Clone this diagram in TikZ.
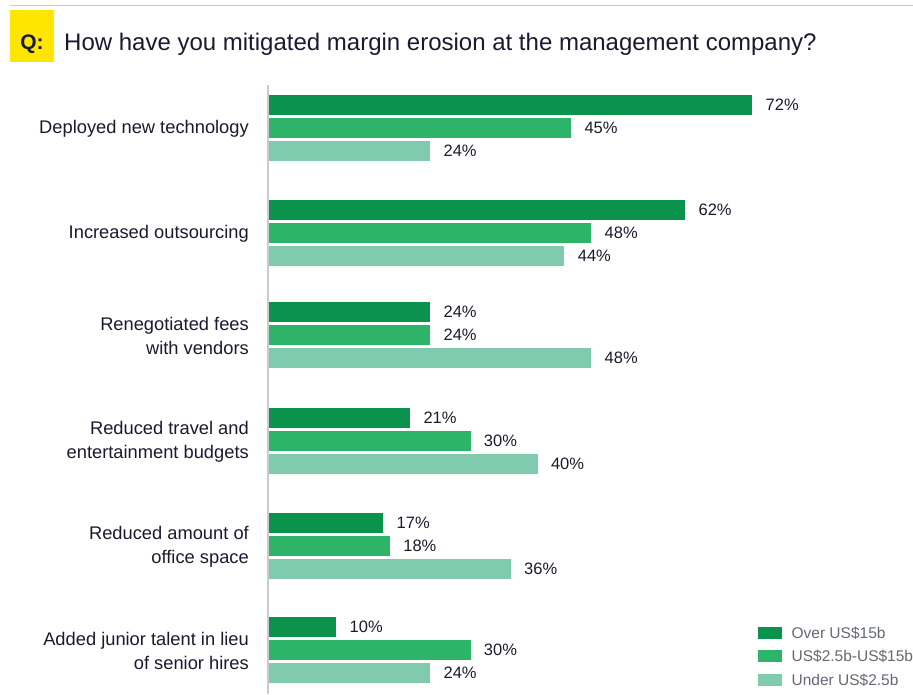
\documentclass[tikz,border=0pt]{standalone}
\usepackage{fontspec}
\setmainfont{Liberation Sans}
\usetikzlibrary{positioning}
\definecolor{qyellow}{RGB}{255,230,0}
\definecolor{overgreen}{RGB}{11,147,77}
\definecolor{midgreen}{RGB}{45,180,105}
\definecolor{undergreen}{RGB}{128,203,174}
\definecolor{inkblue}{RGB}{26,26,46}
\definecolor{keygrey}{RGB}{100,104,115}
\definecolor{rulegrey}{RGB}{200,202,208}
\tikzset{
    raw bar/.style={rectangle, draw=none, inner sep=0pt, minimum height=20pt, anchor=north west},
    bar over/.style={raw bar, fill=overgreen},
    bar mid/.style={raw bar, fill=midgreen},
    bar under/.style={raw bar, fill=undergreen},
    pct label/.style={inkblue, inner sep=0pt, font=\fontsize{16.5}{18}\selectfont},
    cat label/.style={inkblue, inner sep=0pt, anchor=east, align=right, font=\fontsize{18.3}{24}\selectfont},
    key box/.style={rectangle, draw=none, inner sep=0pt, minimum width=24pt, minimum height=12pt, anchor=west},
    key label/.style={keygrey, inner sep=0pt, anchor=west, font=\fontsize{15.5}{16}\selectfont}
}

\begin{document}
\begin{tikzpicture}[x=1pt, y=-1pt]
    \useasboundingbox (0,0) rectangle (913,694);
    % header
    \draw[rulegrey, line width=1pt] (10,5) -- (913,5);
    \node[fill=qyellow, minimum width=44pt, minimum height=52pt, inner sep=0pt, anchor=north west] (qbox) at (10,10) {};
    \node[inkblue, font=\bfseries\fontsize{21}{22}\selectfont] (qmark) at (32,44) {Q:};
    \node[inkblue, anchor=west, inner sep=0pt, font=\fontsize{24}{24}\selectfont] (question) at (64,44)
        {How have you mitigated margin erosion at the management company?};
    % axis
    \coordinate (axistop) at (268,85);
    \coordinate (axisbottom) at (268,694);
    \draw[rulegrey, line width=1.5pt] (axistop) -- (axisbottom);
    % bars
    \foreach \g/\top/\txt/\a/\b/\c in {
        1/95/{Deployed new technology}/72/45/24,
        2/200/{Increased outsourcing}/62/48/44,
        3/302/{Renegotiated fees\\with vendors}/24/24/48,
        4/408/{Reduced travel and\\entertainment budgets}/21/30/40,
        5/513/{Reduced amount of\\office space}/17/18/36,
        6/617/{Added junior talent in lieu\\of senior hires}/10/30/24} {
        \node[bar over, minimum width=\a*6.71pt] (bar\g-1) at (269,\top) {};
        \node[bar mid, minimum width=\b*6.71pt] (bar\g-2) at (269,\top+23) {};
        \node[bar under, minimum width=\c*6.71pt] (bar\g-3) at (269,\top+46) {};
        \node[pct label, right=13pt of bar\g-1] (pct\g-1) {\a\%};
        \node[pct label, right=13pt of bar\g-2] (pct\g-2) {\b\%};
        \node[pct label, right=13pt of bar\g-3] (pct\g-3) {\c\%};
        \node[cat label] (cat\g) at (249,\top+34) {\txt};
    }
    % legend
    \node[key box, fill=overgreen] (keyover) at (758,633) {};
    \node[key box, fill=midgreen, below=11pt of keyover] (keymid) {};
    \node[key box, fill=undergreen, below=11pt of keymid] (keyunder) {};
    \node[key label, right=9pt of keyover] (keyoverlabel) {Over US\$15b};
    \node[key label, right=9pt of keymid] (keymidlabel) {US\$2.5b-US\$15b};
    \node[key label, right=9pt of keyunder] (keyunderlabel) {Under US\$2.5b};
\end{tikzpicture}
\end{document}
